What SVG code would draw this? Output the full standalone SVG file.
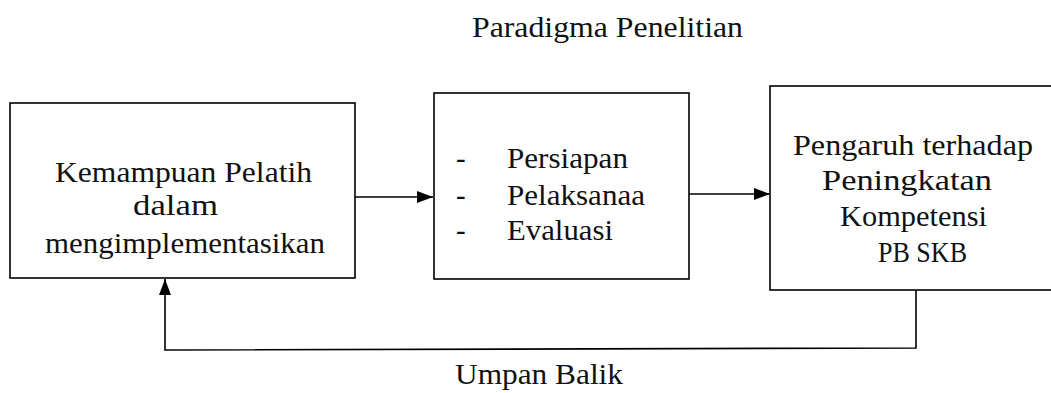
<svg xmlns="http://www.w3.org/2000/svg" width="1051" height="393" viewBox="0 0 1051 393">
  <style>
    .box { fill: #fff; stroke: #000; stroke-width: 1.6; }
    .line { fill: none; stroke: #000; stroke-width: 1.6; }
    .t { font-family: 'Liberation Serif', 'Times New Roman', Times, serif; font-size: 29px; fill: #111; }
  </style>
  <defs>
    <marker id="head" markerWidth="16" markerHeight="12" refX="16" refY="6" orient="auto" markerUnits="userSpaceOnUse">
      <path d="M0,0 L16,6 L0,12 Z" fill="#000"/>
    </marker>
  </defs>

  <rect width="1051" height="393" fill="#fff"/>

  <text id="title" class="t" x="472" y="37" textLength="271" lengthAdjust="spacingAndGlyphs">Paradigma Penelitian</text>

  <g id="connectors">
    <line class="line" x1="355" y1="197" x2="433" y2="197" marker-end="url(#head)"/>
    <line class="line" x1="689" y1="194" x2="770" y2="194" marker-end="url(#head)"/>
    <polyline class="line" points="916,290 916,348 165,350 165,279" marker-end="url(#head)"/>
  </g>

  <g id="node-kemampuan" class="t">
    <rect class="box" x="10" y="103" width="345" height="175"/>
    <text x="55" y="182" textLength="257" lengthAdjust="spacingAndGlyphs">Kemampuan Pelatih</text>
    <text x="133" y="215" textLength="85" lengthAdjust="spacingAndGlyphs">dalam</text>
    <text x="45" y="253" textLength="280" lengthAdjust="spacingAndGlyphs">mengimplementasikan</text>
  </g>

  <g id="node-tahapan" class="t">
    <rect class="box" x="434" y="93" width="255" height="186"/>
    <text x="456" y="168">-</text>
    <text x="507" y="168" textLength="121" lengthAdjust="spacingAndGlyphs">Persiapan</text>
    <text x="456" y="205">-</text>
    <text x="507" y="205" textLength="138" lengthAdjust="spacingAndGlyphs">Pelaksanaa</text>
    <text x="456" y="240">-</text>
    <text x="507" y="240" textLength="106" lengthAdjust="spacingAndGlyphs">Evaluasi</text>
  </g>

  <g id="node-pengaruh" class="t">
    <rect class="box" x="770" y="86" width="290" height="204"/>
    <text x="793" y="155" textLength="240" lengthAdjust="spacingAndGlyphs">Pengaruh terhadap</text>
    <text x="822" y="190" textLength="170" lengthAdjust="spacingAndGlyphs">Peningkatan</text>
    <text x="840" y="226" textLength="147" lengthAdjust="spacingAndGlyphs">Kompetensi</text>
    <text x="878" y="262" textLength="89" lengthAdjust="spacingAndGlyphs">PB  SKB</text>
  </g>

  <text id="label-umpan-balik" class="t" x="455" y="384" textLength="168" lengthAdjust="spacingAndGlyphs">Umpan Balik</text>
</svg>
